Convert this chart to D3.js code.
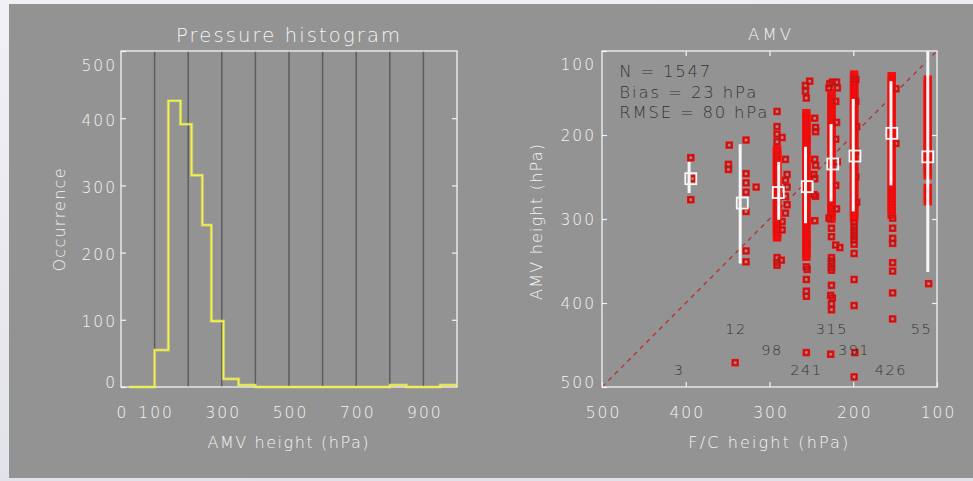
<!DOCTYPE html>
<html>
<head>
<meta charset="utf-8">
<script src="https://cdn.jsdelivr.net/npm/d3@7"></script>
<style>
  html, body { margin: 0; padding: 0; }
  body { width: 973px; height: 481px; overflow: hidden; background: #ececf0; }
  svg { display: block; }
  text { font-family: "DejaVu Sans", "Liberation Sans", sans-serif; font-weight: 200; }
</style>
</head>
<body>
<svg id="chart" width="973" height="481"></svg>
<script>
// ---------------- data ----------------
// Column summaries, ordered by forecast (F/C) height, low pressure first
const columnCounts = [55, 426, 391, 315, 241, 98, 12, 3];
const meanFc  = [111, 154, 198, 224.5, 255, 289.5, 332.5, 394];
const meanAmv = [226, 198, 225, 234.5, 261.5, 268.5, 281, 252];
const barFc     = [111, 155, 200, 226.5, 257, 289, 335, 396];
const barTop    = [100, 136, 157, 187, 214, 232, 211, 232];
const barBottom = [363, 260, 291, 279, 305, 301, 353, 269];

// Histogram of heights (bin edges in hPa, counts per bin)
const histEdges  = [25, 100, 141, 177, 210, 242, 269, 305, 350, 400, 800, 850, 950, 1000];
const histCounts = [0, ...columnCounts, 0, 3, 0, 3];

// Summary statistics
const statNames  = ["N", "Bias", "RMSE"];
const statValues = [1547, 23, 80];
const statUnits  = ["", " hPa", " hPa"];

// Axis ticks
const histXLabels = [0, 100, 300, 500, 700, 900];
const histYTicks  = [0, 100, 200, 300, 400, 500];
const histGrid    = [100, 200, 300, 400, 500, 600, 700, 800, 900];
const amvTicks    = [100, 200, 300, 400, 500];
const fcTicks     = [500, 400, 300, 200, 100];

// Individual AMVs: dense stacks share one F/C height, the rest are [fc, amv] pairs
const bandFc = [111, 154, 199, 226, 256, 291];
const band111 = [134,137,140,143,146,149,152,155,158,161,164,167,170,173,176,179,182,185,188,191,194,197,200,203,206,209,212,215,218,221,224,227,230,233,236,239,242,245,248,263,267,271,275,279];
const band154 = [130,133,136,139,142,145,148,151,154,157,160,163,166,169,172,175,178,181,184,187,190,193,196,199,202,205,208,211,214,217,220,223,226,229,232,235,238,241,244,247,250,253,256,259,262,265,268,271,274,277,280,283,286,289,292,295];
const band199 = [128,131,134,137,140,143,146,149,152,155,158,161,164,167,170,173,176,179,182,185,188,191,194,197,200,203,206,209,212,215,218,221,224,227,230,233,236,239,242,245,248,251,254,257,260,263,266,269,272,275,278,281,284,287,290,293,296,299];
const band226 = [150,153,156,159,162,165,168,171,174,177,180,183,186,189,192,195,198,201,204,207,210,213,216,219,222,225,228,231,234,237,240,243,246,249,252,255,258,261,264,267,270,273,276,279,282,285,288,291,294,297,300];
const band256 = [174,177,180,183,186,189,192,195,198,201,204,207,210,213,216,219,222,225,228,231,234,237,240,243,246,249,252,255,258,261,264,267,270,273,276,279,282,285,288,291,294,297,300,303,306,309,312,315,318,321,324,327,330,333,336,339,342,345];
const band291 = [217,220,223,226,229,232,235,238,241,244,247,250,253,256,259,262,265,268,271,274,277,280,283,286,289,292,295,298,301,304,307,310,313,316,319,322];

const others111 = [[110,377]];
const others154 = [[149,145],[149,210],[153,299],[153,311],[153,323],[153,329],[153,352],[153,362],[153,388],[153,419]];
const others199 = [[197,134],[197,160],[196,190],[197,220],[197,250],[196,280],[199,304],[199,309],[199,313],[199,317],[199,321],[199,325],[199,330],[199,341],[199,372],[199,403],[198,459],[199,488]];
const others226 = [[225,137],[220,137],[229,144],[219,144],[228,139],[221,160],[220,185],[221,205],[219,232],[221,260],[220,288],[229,299],[226,311],[226,321],[221,331],[216,334],[226,346],[226,350],[226,353],[226,358],[226,361],[226,379],[227,391],[225,394],[226,401],[226,408],[227,461]];
const others256 = [[252,136],[257,141],[257,148],[256,156],[246,180],[245,191],[245,196],[246,229],[245,236],[247,247],[246,252],[247,271],[245,273],[246,302],[256,357],[255,360],[256,372],[256,386],[256,392],[256,459]];
const others291 = [[291,172],[291,190],[291,199],[285,203],[291,208],[281,229],[279,247],[281,254],[279,262],[281,273],[279,283],[281,293],[285,303],[285,313],[291,346],[291,352],[286,349],[291,355]];
const pts333 = [[348,212],[349,235],[349,241],[328,206],[328,246],[328,257],[328,268],[316,262],[328,291],[328,338],[328,351],[341,471]];
const pts394 = [[394,227],[392,252],[394,277]];

// Count labels cycle through three rows (AMV height, hPa)
const labelRows = [430, 479, 455];

// ---------------- drawing ----------------
const W = 973, H = 481;
const svg = d3.select("#chart");
const defs = svg.append("defs");

const bgGrad = defs.append("linearGradient").attr("id", "bgGrad")
  .attr("x1", 0).attr("y1", 0).attr("x2", 0.3).attr("y2", 1);
bgGrad.append("stop").attr("offset", 0).attr("stop-color", "#f1f1f5");
bgGrad.append("stop").attr("offset", 1).attr("stop-color", "#e1e1e9");

const soft = defs.append("filter").attr("id", "soft")
  .attr("x", "-10%").attr("y", "-10%").attr("width", "120%").attr("height", "120%");
soft.append("feGaussianBlur").attr("stdDeviation", 0.6);

svg.append("rect").attr("width", W).attr("height", H).attr("fill", "url(#bgGrad)");
svg.append("rect").attr("x", 9).attr("y", 4).attr("width", W - 9).attr("height", 474).attr("fill", "#939393");

const WHITE = "#f3f3f3", DARK = "#353535";
const tickFont = 15.5;

function styleAxis(g) {
  g.attr("font-family", null).attr("font-size", null);
  g.select(".domain").remove();
  g.selectAll(".tick line").attr("stroke", WHITE).attr("stroke-width", 1.2);
  g.selectAll(".tick text")
    .attr("fill", WHITE)
    .style("font-size", tickFont + "px")
    .style("letter-spacing", "2px");
}

// ===== Left panel: histogram =====
const hx = d3.scaleLinear().domain([0, 1000]).range([121, 457]);
const hy = d3.scaleLinear().domain([0, 500]).range([387, 51]);
const gH = svg.append("g");

gH.selectAll("line.grid").data(histGrid).join("line")
  .attr("class", "grid")
  .attr("x1", d => hx(d)).attr("x2", d => hx(d))
  .attr("y1", hy(0)).attr("y2", hy(500))
  .attr("stroke", "#5d5d5d").attr("stroke-width", 1.5);

gH.append("rect")
  .attr("x", hx(0)).attr("y", hy(500))
  .attr("width", hx(1000) - hx(0)).attr("height", hy(0) - hy(500))
  .attr("fill", "none").attr("stroke", WHITE).attr("stroke-width", 1.3);

const histPts = histEdges.map((e, i) => [e, histCounts[Math.min(i, histCounts.length - 1)]]);
const histLine = d3.line().x(d => hx(d[0])).y(d => hy(d[1])).curve(d3.curveStepAfter);
gH.append("path").attr("d", histLine(histPts))
  .attr("fill", "none").attr("stroke", "#ffff70").attr("stroke-width", 3.2)
  .attr("stroke-opacity", 0.35).attr("filter", "url(#soft)");
gH.append("path").attr("d", histLine(histPts))
  .attr("fill", "none").attr("stroke", "#f3f340").attr("stroke-width", 1.6);

gH.append("g").attr("transform", `translate(${hx(0)},0)`)
  .call(d3.axisLeft(hy).tickValues(histYTicks).tickSize(-5).tickPadding(4))
  .call(styleAxis)
  .call(g => g.selectAll(".tick text").attr("dy", d => d === 500 ? "19.4px" : d === 0 ? "0px" : "6.9px"));
gH.append("g").attr("transform", `translate(${hx(1000)},0)`)
  .call(d3.axisRight(hy).tickValues([100, 200, 300, 400]).tickSize(-5).tickFormat(""))
  .call(styleAxis);
gH.append("g").attr("transform", `translate(0,${hy(0)})`)
  .call(d3.axisBottom(hx).tickValues(histXLabels).tickSize(0))
  .call(styleAxis)
  .call(g => g.selectAll(".tick line").remove())
  .call(g => g.selectAll(".tick text").attr("y", 31).attr("dy", 0).attr("dx", "1px"));

gH.append("text").text("Pressure histogram")
  .attr("x", 288).attr("y", 41.7).attr("text-anchor", "middle")
  .attr("textLength", 224).attr("lengthAdjust", "spacing")
  .attr("fill", WHITE).style("font-size", "19.5px");
gH.append("text").text("AMV height (hPa)")
  .attr("x", 288).attr("y", 448).attr("text-anchor", "middle")
  .attr("textLength", 161).attr("lengthAdjust", "spacing")
  .attr("fill", WHITE).style("font-size", "16px");
gH.append("text").text("Occurrence")
  .attr("transform", "translate(65,220) rotate(-90)").attr("text-anchor", "middle")
  .attr("textLength", 103).attr("lengthAdjust", "spacing")
  .attr("fill", WHITE).style("font-size", "16px");

// ===== Right panel: AMV vs forecast height =====
const sx = d3.scaleLinear().domain([500, 100]).range([602, 937]);
const sy = d3.scaleLinear().domain([100, 500]).range([51, 387]);
const gS = svg.append("g");

defs.append("clipPath").attr("id", "plotClip").append("rect")
  .attr("x", sx(500)).attr("y", sy(100))
  .attr("width", sx(100) - sx(500)).attr("height", sy(500) - sy(100));

gS.append("line")
  .attr("x1", sx(500)).attr("y1", sy(500)).attr("x2", sx(100)).attr("y2", sy(100))
  .attr("stroke", "#b33636").attr("stroke-width", 1.4).attr("stroke-dasharray", "4.5,4.5");

const bandPoints = [];
[band111, band154, band199, band226, band256, band291].forEach((band, i) => {
  band.forEach(a => bandPoints.push([bandFc[i], a]));
});
const loosePoints = [];
[others111, others154, others199, others226, others256, others291, pts333, pts394]
  .forEach(list => list.forEach(p => loosePoints.push(p)));

const S = 5;
const squareAt = sel => sel
  .attr("x", d => sx(d[0]) - S / 2).attr("y", d => sy(d[1]) - S / 2)
  .attr("width", S).attr("height", S).attr("fill", "none");

const gPts = gS.append("g").attr("clip-path", "url(#plotClip)");
// red halo around every symbol; stacked symbols merge into a solid column
const halo = gPts.append("g").attr("filter", "url(#soft)").attr("stroke", "#ff0d0d");
halo.append("g").selectAll("rect").data(bandPoints).join("rect")
  .call(squareAt).attr("stroke-width", 3.4);
halo.append("g").selectAll("rect").data(loosePoints).join("rect")
  .call(squareAt).attr("stroke-width", 2.5);
// symbol outlines: faint inside the stacks, distinct for the separate ones
gPts.append("g")
  .selectAll("rect").data(bandPoints).join("rect")
  .call(squareAt)
  .attr("stroke", "#a81818").attr("stroke-width", 1).attr("stroke-opacity", 0.22);
gPts.append("g")
  .selectAll("rect").data(loosePoints).join("rect")
  .call(squareAt)
  .attr("stroke", "#a01c1c").attr("stroke-width", 1).attr("stroke-opacity", 0.9);

// spread bars and mean markers
const gStats = gS.append("g").attr("clip-path", "url(#plotClip)");
gStats.selectAll("rect.bar").data(barFc).join("rect")
  .attr("class", "bar")
  .attr("x", d => sx(d) - 1.5).attr("width", 3)
  .attr("y", (d, i) => sy(barTop[i])).attr("height", (d, i) => sy(barBottom[i]) - sy(barTop[i]))
  .attr("fill", "#f7f7f7");
gStats.selectAll("rect.mean").data(meanFc).join("rect")
  .attr("class", "mean")
  .attr("x", d => sx(d) - 5.5).attr("y", (d, i) => sy(meanAmv[i]) - 5.5)
  .attr("width", 11).attr("height", 11)
  .attr("fill", "none").attr("stroke", "#f7f7f7").attr("stroke-width", 1.8);

gS.append("rect")
  .attr("x", sx(500)).attr("y", sy(100))
  .attr("width", sx(100) - sx(500)).attr("height", sy(500) - sy(100))
  .attr("fill", "none").attr("stroke", WHITE).attr("stroke-width", 1.3);

gS.append("g").attr("transform", `translate(${sx(500)},0)`)
  .call(d3.axisLeft(sy).tickValues(amvTicks).tickSize(-5).tickPadding(6))
  .call(styleAxis)
  .call(g => g.selectAll(".tick text").attr("dy", d => d === 100 ? "18.4px" : d === 500 ? "0px" : "5.4px"));
gS.append("g").attr("transform", `translate(${sx(100)},0)`)
  .call(d3.axisRight(sy).tickValues([200, 300, 400]).tickSize(-5).tickFormat(""))
  .call(styleAxis);
gS.append("g").attr("transform", `translate(0,${sy(500)})`)
  .call(d3.axisBottom(sx).tickValues(fcTicks).tickSize(-5))
  .call(styleAxis)
  .call(g => g.selectAll(".tick text").attr("y", 31).attr("dy", 0).attr("dx", "1px"));
gS.append("g").attr("transform", `translate(0,${sy(100)})`)
  .call(d3.axisTop(sx).tickValues([400, 300, 200]).tickSize(-5).tickFormat(""))
  .call(styleAxis);

// per-column counts
gS.selectAll("text.count").data(columnCounts).join("text")
  .attr("class", "count")
  .attr("x", (d, i) => sx(meanFc[i]) - 17)
  .attr("y", (d, i) => sy(labelRows[i % 3]) + 5.3)
  .attr("fill", DARK).style("font-size", "14.5px").style("letter-spacing", "1.5px")
  .text(d => d);

// statistics block
gS.selectAll("text.stat").data(statNames).join("text")
  .attr("class", "stat")
  .attr("x", 619.3)
  .attr("y", (d, i) => 76.7 + i * 20.8)
  .attr("fill", DARK).style("font-size", "16.5px")
  .attr("textLength", (d, i) => [91, 137, 148][i]).attr("lengthAdjust", "spacing")
  .text((d, i) => `${d} = ${statValues[i]}${statUnits[i]}`);

gS.append("text").text("AMV")
  .attr("x", (sx(500) + sx(100)) / 2).attr("y", 40).attr("text-anchor", "middle")
  .attr("textLength", 43).attr("lengthAdjust", "spacing")
  .attr("fill", WHITE).style("font-size", "16.5px");
gS.append("text").text("F/C height (hPa)")
  .attr("x", 768.3).attr("y", 448).attr("text-anchor", "middle")
  .attr("textLength", 160).attr("lengthAdjust", "spacing")
  .attr("fill", WHITE).style("font-size", "16px");
gS.append("text").text("AMV height (hPa)")
  .attr("transform", "translate(542.3,222) rotate(-90)").attr("text-anchor", "middle")
  .attr("textLength", 156).attr("lengthAdjust", "spacing")
  .attr("fill", WHITE).style("font-size", "16px");
</script>
</body>
</html>
